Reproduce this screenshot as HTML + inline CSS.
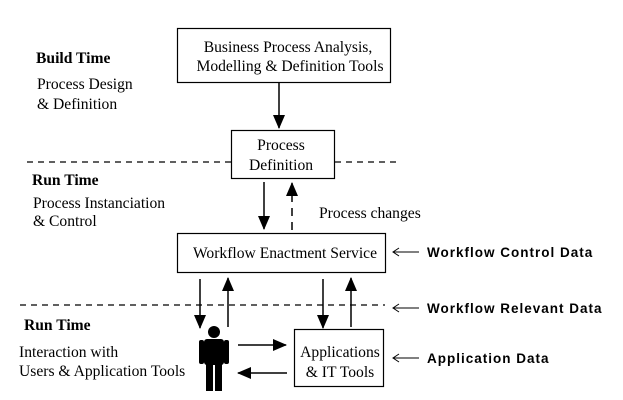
<!DOCTYPE html>
<html><head><style>
body{margin:0;background:#fff;}
svg{display:block}
.s{font-family:"Liberation Serif",serif;font-size:15.6px;fill:#000}
.b{font-family:"Liberation Serif",serif;font-size:15.6px;font-weight:bold;fill:#000}
.a{font-family:"Liberation Sans",sans-serif;font-size:13.5px;font-weight:bold;fill:#000;letter-spacing:1px}
</style></head><body>
<svg width="623" height="400" viewBox="0 0 623 400">
<defs>
<marker id="ab" markerWidth="14" markerHeight="12" refX="13" refY="6" orient="auto" markerUnits="userSpaceOnUse"><path d="M0,0 L14,6 L0,12 z" fill="#000"/></marker>
</defs>
<g stroke="#000" stroke-width="1.2" fill="none">
<rect x="177.5" y="28.5" width="213" height="54"/>
<rect x="231.5" y="130.5" width="103" height="48"/>
<rect x="177.5" y="233.5" width="208" height="39"/>
<rect x="294.5" y="329.5" width="89" height="57"/>
<line x1="27" y1="162" x2="231" y2="162" stroke-dasharray="6,5"/>
<line x1="335" y1="162" x2="400" y2="162" stroke-dasharray="6,5"/>
<line x1="20" y1="305" x2="385" y2="305" stroke-dasharray="6,5"/>
</g>
<g stroke="#000" stroke-width="1.5">
<line x1="279" y1="83" x2="279" y2="128" marker-end="url(#ab)"/>
<line x1="264" y1="182" x2="264" y2="229" marker-end="url(#ab)"/>
<line x1="292" y1="230" x2="292" y2="183" stroke-dasharray="8,6" marker-end="url(#ab)"/>
<line x1="200" y1="279" x2="200" y2="328" marker-end="url(#ab)"/>
<line x1="228" y1="327" x2="228" y2="278" marker-end="url(#ab)"/>
<line x1="323" y1="279" x2="323" y2="328" marker-end="url(#ab)"/>
<line x1="351" y1="327" x2="351" y2="278" marker-end="url(#ab)"/>
<line x1="238" y1="345" x2="286" y2="345" marker-end="url(#ab)"/>
<line x1="287" y1="373" x2="238" y2="373" marker-end="url(#ab)"/>
</g>
<g stroke="#000" stroke-width="1" fill="none">
<path d="M419,252 H393 M399,248 L393,252 L399,256"/>
<path d="M419,308 H393 M399,304 L393,308 L399,312"/>
<path d="M419,358 H393 M399,354 L393,358 L399,362"/>
</g>
<g fill="#000">
<circle cx="214" cy="332" r="6"/>
<rect x="204" y="339" width="20" height="26" rx="3"/>
<rect x="199" y="340" width="5" height="24" rx="2"/>
<rect x="224" y="340" width="5" height="24" rx="2"/>
<rect x="206" y="364" width="7" height="27"/>
<rect x="215" y="364" width="7" height="27"/>
</g>
<text class="s" x="288" y="52" text-anchor="middle">Business Process Analysis,</text>
<text class="s" x="290" y="71" text-anchor="middle">Modelling &amp; Definition Tools</text>
<text class="s" x="281" y="150" text-anchor="middle">Process</text>
<text class="s" x="281" y="170" text-anchor="middle">Definition</text>
<text class="s" x="285" y="258" text-anchor="middle">Workflow Enactment Service</text>
<text class="s" x="340" y="357" text-anchor="middle">Applications</text>
<text class="s" x="340" y="377" text-anchor="middle">&amp; IT Tools</text>
<text class="s" x="319" y="218">Process changes</text>
<text class="b" x="36" y="63">Build Time</text>
<text class="s" x="37" y="89">Process Design</text>
<text class="s" x="37" y="109">&amp; Definition</text>
<text class="b" x="32" y="185">Run Time</text>
<text class="s" x="33" y="208">Process Instanciation</text>
<text class="s" x="33" y="226">&amp; Control</text>
<text class="b" x="24" y="330">Run Time</text>
<text class="s" x="19" y="357">Interaction with</text>
<text class="s" x="19" y="376">Users &amp; Application Tools</text>
<text class="a" x="427" y="257">Workflow Control Data</text>
<text class="a" x="427" y="313">Workflow Relevant Data</text>
<text class="a" x="427" y="363">Application Data</text>
</svg>
</body></html>
